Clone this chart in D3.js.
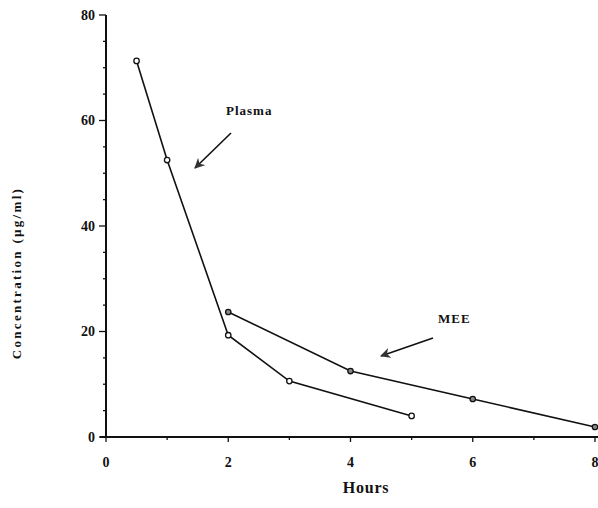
<!DOCTYPE html>
<html><head><meta charset="utf-8">
<script src="https://cdn.jsdelivr.net/npm/d3@7"></script>
<style>body{margin:0;background:#fff}svg{display:block}text{font-family:"Liberation Serif","DejaVu Serif",serif;font-weight:bold;fill:#111}</style>
</head><body><svg id="c" width="598" height="508"></svg>
<script>
const plasmaHours = [0.5, 1, 2, 3, 5];
const plasmaConc = [71.3, 52.5, 19.3, 10.6, 4.0];
const meeHours = [2, 4, 6, 8];
const meeConc = [23.7, 12.5, 7.2, 1.9];
const xTickValues = [0, 2, 4, 6, 8];
const yTickValues = [0, 20, 40, 60, 80];

const svg = d3.select("#c");
const x = d3.scaleLinear().domain([0, 8]).range([106, 595]);
const y = d3.scaleLinear().domain([0, 80]).range([437, 15]);

// y axis
const ya = svg.append("g").attr("transform", "translate(106,0)");
ya.append("line").attr("x1",0).attr("x2",0).attr("y1",y(80)).attr("y2",y(0)).attr("stroke","#111").attr("stroke-width",2);
ya.selectAll("line.minor").data(d3.range(0, 81, 5)).join("line").attr("class","minor")
  .attr("x1", d => d % 20 === 0 ? -7 : -3).attr("x2", 0).attr("y1", d => y(d)).attr("y2", d => y(d))
  .attr("stroke","#111").attr("stroke-width",1.3);
ya.selectAll("text").data(yTickValues).join("text")
  .attr("x", -11).attr("y", d => y(d)).attr("dy","0.35em").attr("text-anchor","end")
  .attr("font-size", 14).text(d => d);

// x axis
const xa = svg.append("g").attr("transform", "translate(0,437)");
xa.append("line").attr("x1", 100).attr("x2", 598).attr("y1",0).attr("y2",0).attr("stroke","#111").attr("stroke-width",2);
xa.selectAll("line.tk").data(d3.range(0, 9, 1)).join("line").attr("class","tk")
  .attr("x1", d => x(d)).attr("x2", d => x(d)).attr("y1", -1).attr("y2", d => d % 2 === 0 ? 5 : 3)
  .attr("stroke","#111").attr("stroke-width",1.3);
xa.selectAll("text").data(xTickValues).join("text")
  .attr("x", d => x(d)).attr("y", 30).attr("text-anchor","middle")
  .attr("font-size", 14).text(d => d);

svg.append("text").attr("x", 366).attr("y", 493).attr("text-anchor","middle").attr("font-size", 16).attr("letter-spacing", 0.8).text("Hours");
svg.append("text").attr("transform","translate(21,273) rotate(-90)").attr("text-anchor","middle")
  .attr("font-size", 13).attr("letter-spacing", 2.3).text("Concentration  (µg/ml)");

const line = d3.line().x(d => x(d[0])).y(d => y(d[1]));
const plasma = plasmaHours.map((h, i) => [h, plasmaConc[i]]);
const mee = meeHours.map((h, i) => [h, meeConc[i]]);

svg.append("path").attr("d", line(plasma)).attr("fill","none").attr("stroke","#111").attr("stroke-width",1.6);
svg.append("path").attr("d", line(mee)).attr("fill","none").attr("stroke","#111").attr("stroke-width",1.6);
svg.selectAll("circle.p").data(plasma).join("circle").attr("class","p")
  .attr("cx", d => x(d[0])).attr("cy", d => y(d[1])).attr("r", 2.7)
  .attr("fill","#fff").attr("stroke","#111").attr("stroke-width",1.3);
svg.selectAll("circle.m").data(mee).join("circle").attr("class","m")
  .attr("cx", d => x(d[0])).attr("cy", d => y(d[1])).attr("r", 2.7)
  .attr("fill","#888").attr("stroke","#111").attr("stroke-width",1.3);

// annotations
svg.append("defs").append("marker").attr("id","ah").attr("viewBox","0 0 10 10").attr("refX",9).attr("refY",5)
  .attr("markerWidth",6.5).attr("markerHeight",6.5).attr("orient","auto")
  .append("path").attr("d","M0,0 L10,5 L0,10 L3,5 Z").attr("fill","#333");
svg.append("text").attr("x", 226).attr("y", 115).attr("font-size", 13).attr("letter-spacing", 1).text("Plasma");
svg.append("line").attr("x1",231).attr("y1",133).attr("x2",195).attr("y2",168).attr("stroke","#111").attr("stroke-width",1.6).attr("marker-end","url(#ah)");
svg.append("text").attr("x", 438).attr("y", 323).attr("font-size", 13).attr("letter-spacing", 1).text("MEE");
svg.append("line").attr("x1",433).attr("y1",338).attr("x2",381).attr("y2",356).attr("stroke","#111").attr("stroke-width",1.6).attr("marker-end","url(#ah)");
</script></body></html>
